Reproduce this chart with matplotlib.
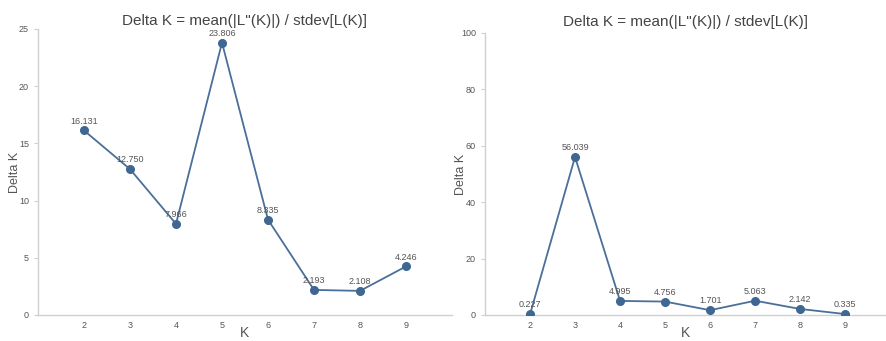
import matplotlib
matplotlib.use("Agg")
import matplotlib.pyplot as plt

k_values = [2, 3, 4, 5, 6, 7, 8, 9]
delta_k_left = [16.131, 12.750, 7.966, 23.806, 8.335, 2.193, 2.108, 4.246]
delta_k_right = [0.227, 56.039, 4.995, 4.756, 1.701, 5.063, 2.142, 0.335]
left_yticks = [0, 5, 10, 15, 20, 25]
right_yticks = [0, 20, 40, 60, 80, 100]
title = "Delta K = mean(|L\"(K)|) / stdev[L(K)]"

plt.rcParams['font.family'] = ['Liberation Sans', 'DejaVu Sans']
fig = plt.figure(figsize=(8.87, 3.41), dpi=100)

line_color = "#4a6f99"
axis_color = "#d0d0d0"
text_color = "#555555"

def panel(rect, values, yticks, ylim, xlim, ylabel_x):
    ax = fig.add_axes(rect)
    ax.plot(k_values, values, color=line_color, lw=1.3, marker='o', markersize=5.5,
            markerfacecolor="#3f6792", markeredgecolor="#3f6792", zorder=3)
    for k, v in zip(k_values, values):
        ax.annotate(f"{v:.3f}", (k, v), xytext=(0, 3.5), textcoords='offset points',
                    ha='center', va='bottom', fontsize=6.5, color=text_color)
    ax.set_xlim(*xlim)
    ax.set_ylim(*ylim)
    ax.set_xticks(k_values)
    ax.set_yticks(yticks)
    for s in ['top', 'right']:
        ax.spines[s].set_visible(False)
    for s in ['left', 'bottom']:
        ax.spines[s].set_color(axis_color)
        ax.spines[s].set_linewidth(1)
    ax.tick_params(axis='both', labelsize=6.5, labelcolor=text_color, colors=axis_color,
                   length=3, width=0.8)
    ax.tick_params(axis='x', length=0, pad=4)
    ax.set_xlabel("K", fontsize=10, color=text_color, va='center')
    ax.xaxis.set_label_coords(0.5, -0.063)
    ax.set_ylabel("Delta K", fontsize=9, color=text_color, va='center')
    ax.yaxis.set_label_coords(ylabel_x, 0.5)
    ax.patch.set_alpha(0)
    return ax

ax1 = panel([38/887, 1-315/341, (452-38)/887, (315-29)/341], delta_k_left,
            left_yticks, (0, 25), (1, 10), -0.055)
ax1.set_title(title, fontsize=11, color="#444444", pad=3)

ax2 = panel([485/887, 1-315/341, (887-485)/887, (315-33)/341], delta_k_right,
            right_yticks, (0, 100), (1, 9.93), -0.06)
ax2.set_title(title, fontsize=11, color="#444444", pad=5)

fig.savefig("out.png", dpi=100)
